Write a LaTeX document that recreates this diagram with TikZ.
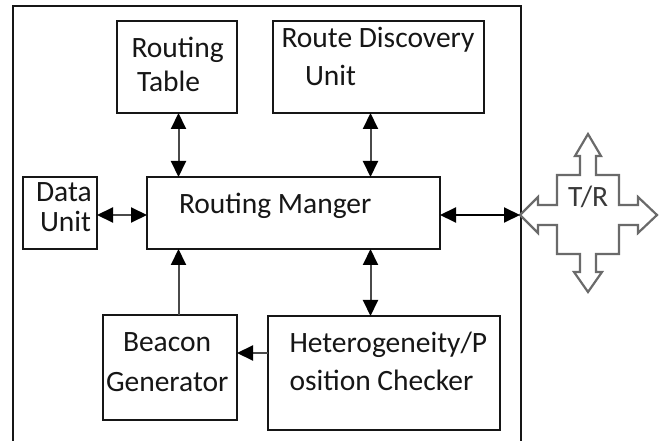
\documentclass[tikz,border=0pt]{standalone}
\usepackage{fontspec}
\setmainfont{Carlito}
\usetikzlibrary{arrows.meta}

\definecolor{ink}{HTML}{161616}
\definecolor{shaft}{HTML}{4A4A4A}
\definecolor{crossline}{HTML}{6A6A6A}

\tikzset{
  box/.style={draw=ink, line width=1.8pt, inner sep=0pt, outer sep=0pt, anchor=north west},
  lbl/.style={inner sep=0pt, outer sep=0pt, anchor=base west, text=ink,
              font=\fontsize{29.5}{34}\selectfont},
  twoway/.style={{Triangle[length=16pt,width=15pt,color=black]}-{Triangle[length=16pt,width=15pt,color=black]},
                 draw=shaft, line width=2pt},
  oneway/.style={-{Triangle[length=16pt,width=15pt,color=black]}, draw=shaft, line width=2pt},
}

\begin{document}
\begin{tikzpicture}[x=1pt,y=-1pt]
\useasboundingbox (0,0) rectangle (665,441);

% enclosing frame, open at the bottom
\draw[ink, line width=2pt] (13,441) -- (13,6) -- (521,6) -- (521,441);

% blocks
\node[box, minimum width=120pt, minimum height=92pt] (rt)  at (117,21)  {};
\node[box, minimum width=211pt, minimum height=92pt] (rdu) at (273,21)  {};
\node[box, minimum width=74pt,  minimum height=72pt] (du)  at (23,177)  {};
\node[box, minimum width=293pt, minimum height=72pt] (rm)  at (147,177) {};
\node[box, minimum width=134pt, minimum height=105pt] (bg) at (103,315) {};
\node[box, minimum width=232pt, minimum height=114pt] (hc) at (268,316) {};

% block captions
\node[lbl] (rt1)  at (131.5,58)  {Routing};
\node[lbl] (rt2)  at (137,92)    {Table};
\node[lbl] (rdu1) at (281.5,48)  {Route Discovery};
\node[lbl] (rdu2) at (305,86)    {Unit};
\node[lbl] (du1)  at (36,201.5)  {Data};
\node[lbl] (du2)  at (40,231.5)  {Unit};
\node[lbl] (rm1)  at (179,214)   {Routing Manger};
\node[lbl] (bg1)  at (123,351.5) {Beacon};
\node[lbl] (bg2)  at (106,391.5) {Generator};
\node[lbl] (hc1)  at (289.5,352.5) {Heterogeneity/P};
\node[lbl] (hc2)  at (289.5,390.5) {osition Checker};

% four-way T/R arrow
\begin{scope}[shift={(588,215)}]
  \draw[crossline, line width=2.2pt, line join=miter, fill=white]
    (0,-81) -- (13,-59) -- (8,-59) -- (8,-40) -- (31,-40) -- (31,-10)
    -- (50,-10) -- (50,-18) -- (69,0) -- (50,18) -- (50,10) -- (31,10)
    -- (31,39) -- (8,39) -- (8,57) -- (14,57) -- (0,77) -- (-14,57)
    -- (-8,57) -- (-8,39) -- (-31,39) -- (-31,10) -- (-50,10) -- (-50,18)
    -- (-68,0) -- (-50,-18) -- (-50,-10) -- (-31,-10) -- (-31,-40)
    -- (-8,-40) -- (-8,-59) -- (-13,-59) -- cycle;
  \coordinate (trtip) at (-68,0);
\end{scope}
\node[lbl, text=ink!85] (tr) at (568,207) {T/R};

% x positions of the vertical links
\coordinate (xa) at (178.5,0);
\coordinate (xb) at (370.5,0);
\coordinate (ylink) at (0,215);
\coordinate (yhb) at (0,353);

% links
\draw[twoway] (rt.south -| xa) -- (rm.north -| xa);
\draw[twoway] (rdu.south -| xb) -- (rm.north -| xb);
\draw[twoway] (du.east |- ylink) -- (rm.west |- ylink);
\draw[twoway, draw=black] (rm.east |- ylink) -- (trtip);
\draw[oneway] (bg.north -| xa) -- (rm.south -| xa);
\draw[twoway] (hc.north -| xb) -- (rm.south -| xb);
\draw[oneway] (hc.west |- yhb) -- (bg.east |- yhb);
\end{tikzpicture}
\end{document}
